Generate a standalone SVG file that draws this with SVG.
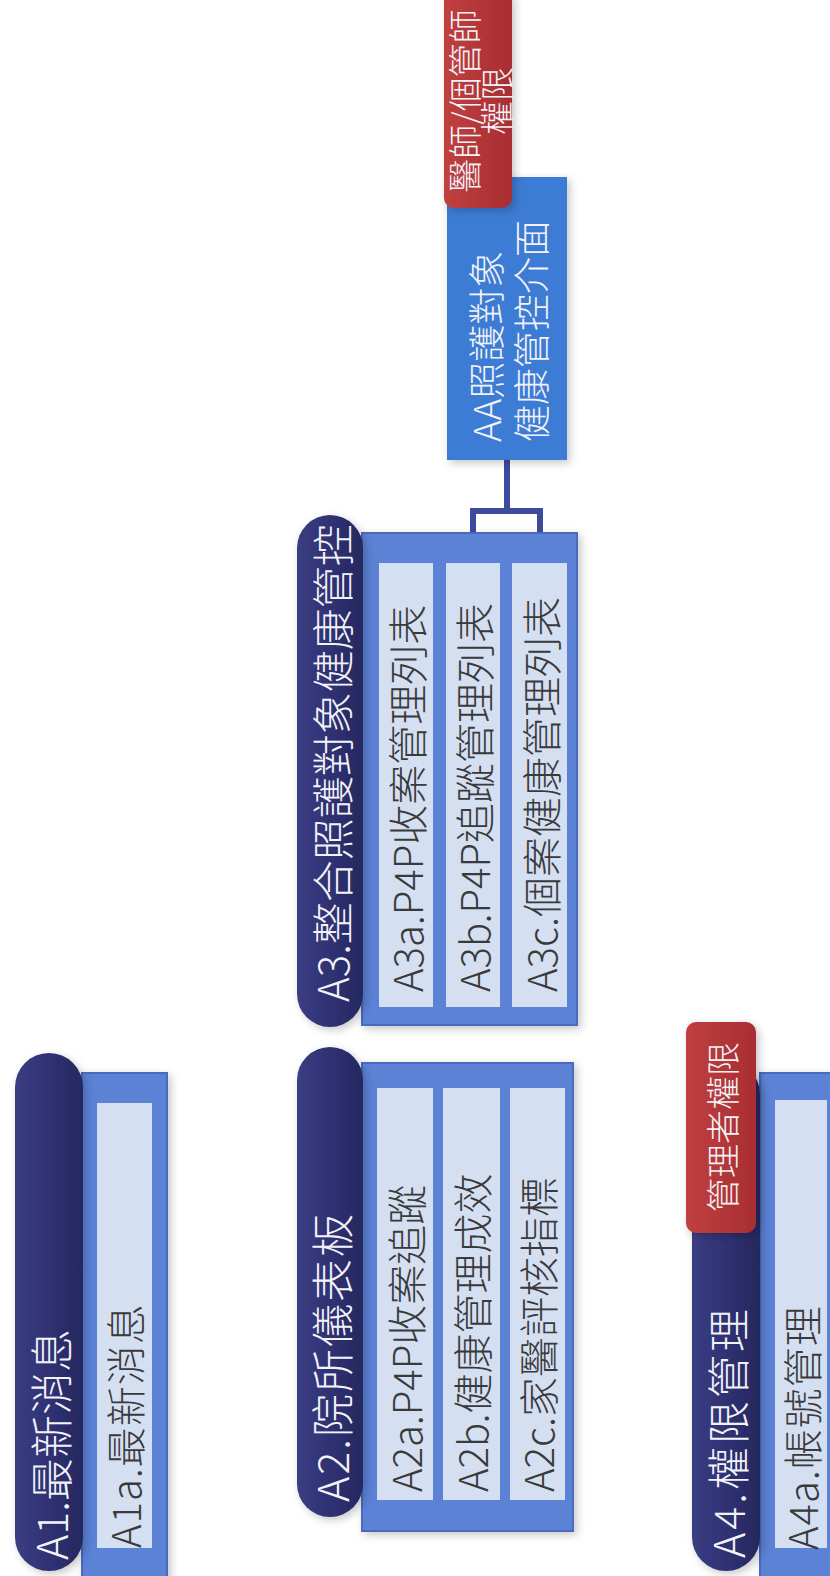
<svg xmlns="http://www.w3.org/2000/svg" width="830" height="1576" viewBox="0 0 830 1576">
<defs>
<filter id="sh" x="-20%" y="-10%" width="140%" height="120%">
<feDropShadow dx="3" dy="3" stdDeviation="4" flood-color="#000" flood-opacity="0.22"/>
</filter>
<linearGradient id="pillg" x1="0" y1="0" x2="1" y2="0">
<stop offset="0" stop-color="#3b3d82"/>
<stop offset="0.5" stop-color="#2f3173"/>
<stop offset="1" stop-color="#26285f"/>
</linearGradient>
<linearGradient id="redg" x1="0" y1="0" x2="1" y2="0">
<stop offset="0" stop-color="#c0403f"/>
<stop offset="1" stop-color="#a82d33"/>
</linearGradient>
<style>
.panel{fill:#5b82d6;stroke:#4a6bc0;stroke-width:2;filter:url(#sh)}
.pill{fill:url(#pillg);filter:url(#sh)}
.item{fill:#d4dff2}
.aa{fill:#3e7bd5;filter:url(#sh)}
.red{fill:url(#redg);filter:url(#sh)}
.t{font-family:"Noto Sans CJK TC","Noto Sans CJK SC",sans-serif;font-weight:300;font-size:40px;dominant-baseline:central}
.p{font-size:43px}
.r{font-size:34px}
.w{fill:#f2f2f7}
.d{fill:#3a3a3a}
.conn{fill:none;stroke:#3d4a9e;stroke-width:6}
</style>
</defs>

<g id="connectors">
<path class="conn" d="M507 458 V511 M473 511 H541 M473 508 V564 M540 508 V564"/>
</g>

<g id="A1">
<rect class="panel" x="82" y="1073" width="85" height="520"/>
<rect class="item" x="97" y="1103" width="55" height="445"/>
<rect class="pill" x="15" y="1053" width="68" height="518" rx="34"/>
<text class="t p w" transform="translate(49,1560) rotate(-90)">A1.最新消息</text>
<text class="t d" transform="translate(124,1548) rotate(-90)" letter-spacing="1">A1a.最新消息</text>
</g>

<g id="A2">
<rect class="panel" x="362" y="1063" width="211" height="468"/>
<rect class="item" x="377" y="1088" width="56" height="412"/>
<rect class="item" x="443" y="1088" width="57" height="412"/>
<rect class="item" x="510" y="1088" width="55" height="412"/>
<rect class="pill" x="297" y="1047" width="66" height="470" rx="33"/>
<text class="t p w" transform="translate(330,1502) rotate(-90)" letter-spacing="2">A2.院所儀表板</text>
<text class="t d" transform="translate(405,1492) rotate(-90)">A2a.P4P收案追蹤</text>
<text class="t d" transform="translate(471,1492) rotate(-90)">A2b.健康管理成效</text>
<text class="t d" transform="translate(537,1492) rotate(-90)">A2c.家醫評核指標</text>
</g>

<g id="A3">
<rect class="panel" x="362" y="533" width="215" height="492"/>
<rect class="item" x="379" y="563" width="54" height="444"/>
<rect class="item" x="446" y="563" width="54" height="444"/>
<rect class="item" x="512" y="563" width="55" height="444"/>
<rect class="pill" x="297" y="515" width="66" height="512" rx="33"/>
<text class="t w" style="font-size:42px" transform="translate(330,1002) rotate(-90)">A3.整合照護對象健康管控</text>
<text class="t d" transform="translate(406,992) rotate(-90)">A3a.P4P收案管理列表</text>
<text class="t d" transform="translate(473,992) rotate(-90)">A3b.P4P追蹤管理列表</text>
<text class="t d" transform="translate(540,992) rotate(-90)">A3c.個案健康管理列表</text>
</g>

<g id="AA">
<rect class="aa" x="447" y="177" width="120" height="283"/>
<text class="t w" style="font-size:37px" transform="translate(485,442) rotate(-90)">AA照護對象</text>
<text class="t w" style="font-size:37px" transform="translate(530,442) rotate(-90)">健康管控介面</text>
</g>

<g id="AA-role">
<rect class="red" x="444" y="-12" width="68" height="220" rx="10"/>
<text class="t w r" text-anchor="middle" transform="translate(463,101) rotate(-90)">醫師/個管師</text>
<text class="t w r" text-anchor="middle" transform="translate(495,101) rotate(-90)">權限</text>
</g>

<g id="A4">
<rect class="panel" x="760" y="1073" width="85" height="520"/>
<rect class="item" x="775" y="1100" width="52" height="448"/>
<rect class="pill" x="692" y="1060" width="68" height="511" rx="34"/>
<text class="t p w" transform="translate(726,1558) rotate(-90)" letter-spacing="3">A4.權限管理</text>
<text class="t d" transform="translate(801,1550) rotate(-90)" letter-spacing="1">A4a.帳號管理</text>
</g>

<g id="A4-role">
<rect class="red" x="686" y="1022" width="70" height="211" rx="10"/>
<text class="t w r" text-anchor="middle" transform="translate(721,1127) rotate(-90)">管理者權限</text>
</g>
</svg>
